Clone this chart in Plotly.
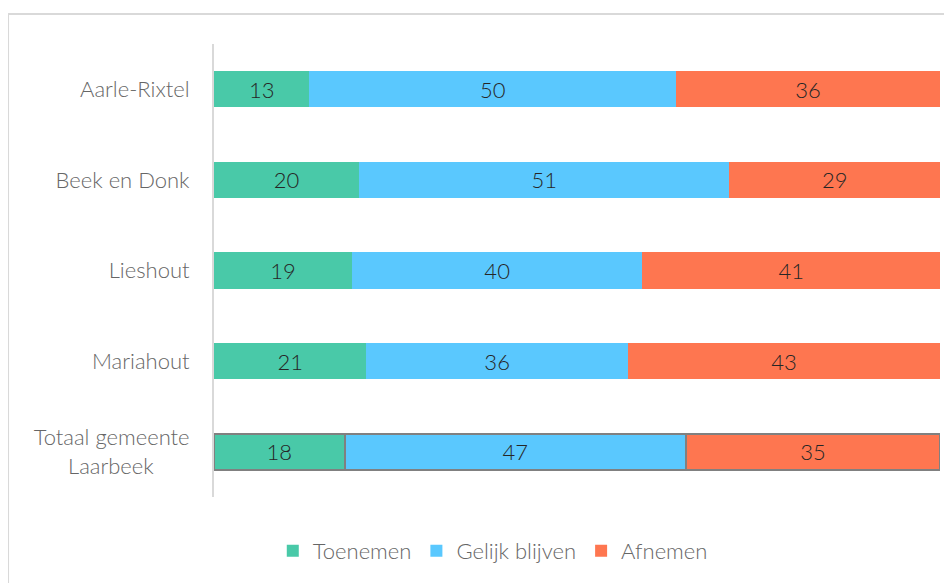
import plotly.graph_objects as go

categories = ["Aarle-Rixtel", "Beek en Donk", "Lieshout", "Mariahout",
              "Totaal gemeente<br>Laarbeek" + "\u00a0" * 6]
toenemen = [13, 20, 19, 21, 18]
gelijk = [50, 51, 40, 36, 47]
afnemen = [36, 29, 41, 43, 35]
series_names = ["Toenemen", "Gelijk blijven", "Afnemen"]
colors = ["#49C9A8", "#5AC8FE", "#FE7650"]

line_w = [0, 0, 0, 0, 2]
line_c = ["rgba(0,0,0,0)"] * 4 + ["#808080"]

FONT = "Lato Light, Lato"
# page body has an 8px margin; figure coordinates = page coordinates - 8
fig = go.Figure()
for name, vals, col in zip(series_names, [toenemen, gelijk, afnemen], colors):
    fig.add_trace(go.Bar(
        y=categories, x=vals, name=name, orientation="h",
        marker=dict(color=col, line=dict(width=line_w, color=line_c)),
        text=vals, texttemplate="%{text}", textposition="inside",
        insidetextanchor="middle", textangle=0,
        textfont=dict(family=FONT, size=22, color="#262626", weight=300),
        hoverinfo="skip",
    ))

fig.update_layout(
    width=952, height=583,
    barmode="stack", barnorm="percent", bargap=0.6,
    margin=dict(l=206, r=20, t=36, b=94),
    paper_bgcolor="white", plot_bgcolor="white",
    font=dict(family=FONT, size=22, color="#595959", weight=300),
    showlegend=True,
    legend=dict(orientation="h", x=0.384, xanchor="center", y=-0.119, yanchor="middle",
                font=dict(family=FONT, size=22, color="#666666", weight=300),
                traceorder="normal", itemwidth=30),
    xaxis=dict(range=[0, 100], visible=False, showgrid=False, fixedrange=True),
    yaxis=dict(categoryorder="array", categoryarray=categories[::-1],
               showline=True, linecolor="#d9d9d9", linewidth=2,
               showgrid=False, ticks="", ticklabelstandoff=18,
               tickfont=dict(family=FONT, size=22, color="#666666", weight=300)),
    shapes=[
        dict(type="line", xref="paper", yref="paper", x0=-0.2837, x1=1.1, y0=1.0662, y1=1.0662,
             line=dict(color="#d9d9d9", width=2)),
        dict(type="line", xref="paper", yref="paper", x0=-0.2837, x1=-0.2837, y0=1.0662, y1=-0.3,
             line=dict(color="#d9d9d9", width=2)),
    ],
)

fig.write_html("out.html")
